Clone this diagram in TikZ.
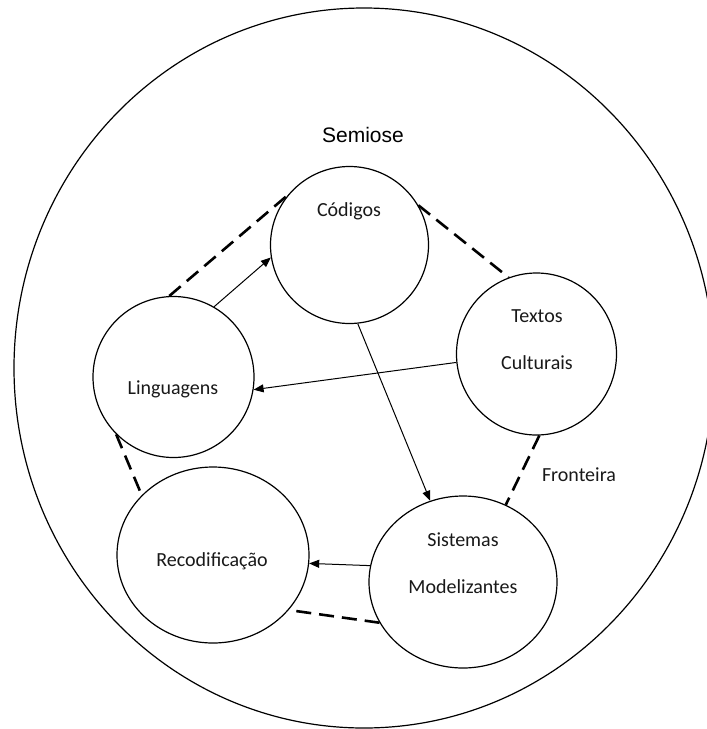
\documentclass[tikz,border=0pt]{standalone}
\usepackage{fontspec}
\setmainfont{Carlito}
\newfontfamily\titlefont{Liberation Sans}
\usetikzlibrary{shapes.geometric,arrows.meta}

\tikzset{
  sphere/.style={ellipse, draw, line width=1.2pt, inner sep=0pt},
  label text/.style={anchor=base, font=\fontsize{20}{24}\selectfont, text=black!90},
  flow/.style={line width=1pt, -{Triangle[length=10pt,width=8pt]}},
  border link/.style={line width=2.6pt, dash pattern=on 15pt off 8pt},
}

\begin{document}
\begin{tikzpicture}[x=1pt,y=-1pt]
  \useasboundingbox (0,0) rectangle (707,729);
  \fill[white] (0,0) rectangle (707,729);

  % the semiosphere
  \node (outer) [sphere, minimum width=700pt, minimum height=720pt] at (364,368) {};
  \node (semiose) [anchor=base, font=\titlefont\fontsize{21}{25}\selectfont] at (363,142) {Semiose};

  % inner spheres
  \node (cod) [sphere, minimum width=158pt, minimum height=157pt] at (349.5,245) {};
  \node (lin) [sphere, minimum width=161pt, minimum height=161pt] at (173.5,377) {};
  \node (tex) [sphere, minimum width=160pt, minimum height=162pt] at (536.5,354) {};
  \node (sis) [sphere, minimum width=188pt, minimum height=172pt] at (463,582) {};
  \node (rec) [sphere, minimum width=192pt, minimum height=176pt] at (213,555) {};

  % texts
  \node (codt)  [label text] at (349,216) {Códigos};
  \node (lint)  [label text] at (173,394) {Linguagens};
  \node (text1) [label text] at (537,322) {Textos};
  \node (text2) [label text] at (537,369) {Culturais};
  \node (sist1) [label text] at (463,546) {Sistemas};
  \node (sist2) [label text] at (463,593) {Modelizantes};
  \node (rect)  [label text] at (212,566) {Recodificação};
  \node (front) [label text] at (579,481) {Fronteira};

  % boundaries between spheres
  \draw[border link] (lin.93) -- (cod.141);
  \draw[border link] (cod.30) -- (tex.110);
  \draw[border link] (tex.272) -- (sis.61);
  \draw[border link] (sis.206) -- (rec.324);
  \draw[border link] (lin.225) -- (rec.140);

  % flows
  \draw[flow] (lin.60) -- (cod.189);
  \draw[flow] (tex.186) -- (lin.351);
  \draw[flow] (cod.276) -- (sis.112);
  \draw[flow] (sis.170) -- (rec.355);
\end{tikzpicture}
\end{document}
